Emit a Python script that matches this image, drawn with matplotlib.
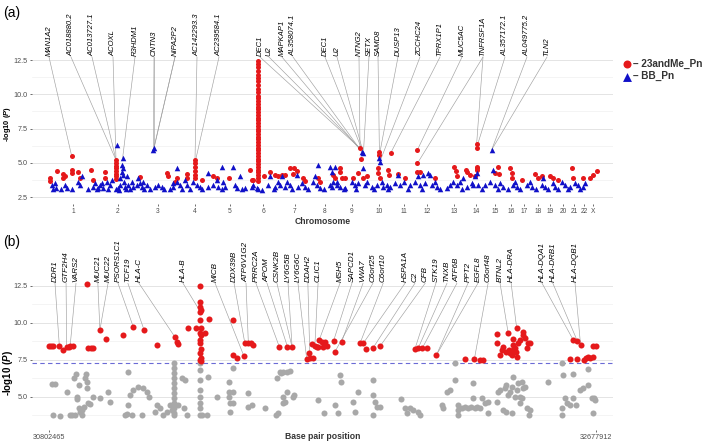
import matplotlib
matplotlib.use("Agg")
import matplotlib.pyplot as plt

plt.rcParams["font.family"] = ["Liberation Sans", "DejaVu Sans"]
plt.rcParams["mathtext.fontset"] = "custom"
plt.rcParams["mathtext.it"] = "Liberation Sans:italic:bold"

# ---------------- panel (a): genome-wide scan ----------------
# x = cumulative genome position (scaled Mb), y = -log10(P)
chrom_names = [str(i) for i in range(1, 23)] + ["X"]
chrom_mid = [115, 340, 540, 725, 900, 1065, 1225, 1375, 1510, 1645, 1770, 1885,
             2020, 2130, 2225, 2305, 2370, 2440, 2500, 2565, 2620, 2670, 2715]

me_pos = [0, 0, 37, 63, 63, 75, 108, 108, 108, 142, 150, 203, 217, 275, 275,
          330, 330, 330, 330, 330, 330, 330, 330, 450,
          583, 592, 625, 633, 683, 683,
          725, 725, 725, 725, 725, 725, 758, 817, 833, 897,
          1000, 1008, 1017,
          1042, 1042, 1042, 1042, 1042, 1042, 1042, 1042, 1042, 1042, 1042, 1042,
          1042, 1042, 1042, 1042, 1042, 1042, 1042, 1042, 1042, 1042, 1042, 1042,
          1042, 1042, 1042, 1042, 1042, 1042, 1042, 1042, 1042, 1042, 1042, 1042,
          1042, 1042, 1042, 1042, 1042, 1042,
          1070, 1100, 1125, 1142, 1158, 1175, 1200, 1220, 1217, 1237, 1267, 1275,
          1342, 1350, 1417, 1425,
          1450, 1450, 1458, 1475, 1517, 1550, 1553, 1542, 1567, 1583,
          1647, 1647, 1642, 1642, 1650, 1692, 1697, 1703, 1742, 1775,
          1837, 1837, 1837, 1850, 1925,
          2020, 2030, 2037, 2080, 2087, 2100,
          2133, 2133, 2133, 2133, 2133, 2125,
          2225, 2242, 2247, 2300, 2308, 2308, 2358, 2425, 2442, 2458, 2500, 2517,
          2542, 2608, 2617, 2667, 2700, 2717, 2733]
me_logp = [3.92, 3.68, 4.41, 4.16, 3.87, 4.07, 5.52, 4.48, 4.24, 4.36, 3.87, 4.48, 3.75, 4.31, 3.87,
           5.2, 5.0, 4.8, 4.6, 4.4, 4.2, 4.0, 3.85, 3.99,
           4.24, 4.0, 3.63, 3.87, 4.16, 3.87,
           5.2, 5.0, 4.7, 4.4, 4.1, 3.9, 3.75, 4.0, 3.87, 3.87,
           4.48, 3.75, 3.75,
           12.4, 12.2, 12.0, 11.7, 11.4, 11.2, 11.0, 10.7, 10.4, 10.2, 9.9, 9.7,
           9.5, 9.3, 9.1, 8.9, 8.7, 8.5, 8.3, 8.1, 7.9, 7.7, 7.5, 7.3,
           7.1, 6.9, 6.7, 6.5, 6.3, 6.1, 5.9, 5.7, 5.5, 5.3, 5.1, 4.9,
           4.7, 4.5, 4.3, 4.1, 3.9, 3.7,
           4.0, 4.36, 4.1, 4.0, 4.1, 4.1, 4.6, 4.6, 4.16, 4.4, 3.87, 3.68,
           3.87, 3.63, 4.1, 3.92,
           4.6, 4.36, 3.87, 3.87, 3.87, 6.06, 5.28, 4.24, 3.87, 4.0,
           5.82, 5.57, 4.6, 4.24, 3.87, 4.48, 4.1, 5.7, 4.16, 3.87,
           5.94, 4.96, 4.36, 4.3, 3.92,
           4.72, 4.4, 4.0, 4.48, 4.3, 4.1,
           6.35, 6.1, 4.72, 4.48, 4.6, 4.0,
           4.24, 4.72, 4.16, 4.6, 4.24, 3.87, 3.75, 4.16, 3.92, 4.07, 4.0, 3.87,
           3.75, 4.65, 3.92, 3.87, 3.92, 4.1, 4.4]

bb_pos = [8, 25, 30, 75, 83, 142, 150, 158, 217, 225, 242, 250, 258, 267, 283, 300, 308,
          337, 342, 350, 350, 358, 358, 363, 367, 367, 370, 375, 387, 392, 408, 417,
          433, 442, 450, 458, 467, 483, 517, 520, 525, 542, 558, 613, 617, 633, 637,
          650, 675, 683,
          717, 733, 750, 792, 792, 817, 833, 842, 858, 867, 875, 917, 925, 933, 950,
          975, 1008, 1017, 1033, 1092, 1100, 1125, 1142, 1150, 1158, 1175, 1183,
          1200, 1233, 1242, 1258, 1275, 1317, 1325, 1333, 1342, 1350, 1400, 1408,
          1425, 1433,
          1400, 1408, 1417, 1433, 1450, 1475, 1508, 1525, 1542, 1558, 1567, 1563,
          1575, 1583, 1608, 1633, 1647, 1650, 1658, 1667, 1683, 1700, 1725, 1742,
          1750, 1770, 1800, 1825, 1842, 1850, 1867, 1875, 1892, 1900, 1908, 1925,
          1933, 1983, 2000, 2017, 2033, 2050, 2067, 2083, 2108, 2125, 2142,
          2208, 2117, 2133, 2175, 2200, 2217, 2225, 2250, 2267, 2317, 2325, 2333,
          2383, 2400, 2408, 2467, 2458, 2475, 2517, 2525, 2558, 2575, 2600, 2625,
          2642, 2667, 2675,
          15, 55, 110, 190, 236, 290, 330, 345, 380, 400, 470, 500, 570, 600, 660,
          700, 760, 860, 960, 1040, 1060, 1120, 1210, 1290, 1370, 1470, 1530, 1620,
          1690, 1790, 1860, 1950, 2060, 2160, 2240, 2290, 2350, 2430, 2490, 2540,
          2590, 2650]
bb_logp = [3.38, 3.5, 3.19, 3.38, 3.19, 3.63, 3.38, 4.0, 3.26, 3.5, 3.19, 3.38, 3.5, 3.19, 3.63, 3.38, 3.75,
           6.3, 3.14, 3.38, 3.87, 4.36, 4.84, 5.33, 4.6, 4.12, 3.63, 3.26, 4.0, 3.38, 3.63, 3.26,
           3.38, 3.87, 3.5, 3.26, 3.63, 3.38, 5.94, 6.06, 3.26, 3.38, 3.26, 3.5, 3.26, 3.63, 4.6,
           3.38, 3.75, 3.38,
           3.63, 3.38, 3.26, 4.24, 3.26, 3.38, 3.75, 3.26, 4.72, 3.63, 3.26, 4.72, 3.38, 3.14, 4.0,
           3.14, 3.26, 3.38, 3.19, 3.38, 4.0, 3.26, 3.63, 3.38, 4.0, 3.26, 3.63,
           3.38, 4.12, 3.26, 3.5, 3.26, 3.63, 4.0, 3.38, 4.84, 3.14, 3.38, 3.26,
           4.72, 3.63,
           4.72, 4.36, 3.63, 3.38, 3.26, 3.19, 3.63, 3.38, 3.5, 5.82, 5.7, 4.6,
           3.38, 3.63, 3.26, 3.38, 5.33, 5.09, 3.63, 3.26, 3.38, 3.26, 3.5, 4.12,
           3.38, 3.63, 3.38, 3.63, 4.0, 3.38, 4.12, 3.5, 4.24, 4.12, 3.38, 3.63,
           3.26, 3.14, 3.38, 3.63, 3.38, 3.63, 3.87, 3.26, 3.5, 4.0, 3.38,
           5.94, 3.38, 4.24, 3.38, 3.63, 4.48, 3.38, 3.5, 3.26, 3.38, 3.63, 3.26,
           3.38, 3.63, 3.26, 3.87, 3.38, 3.26, 3.5, 3.26, 3.63, 3.38, 3.26, 3.5,
           3.38, 3.26, 3.5,
           3.05, 3.1, 3.05, 3.08, 3.05, 3.1, 3.05, 3.02, 3.08, 3.05, 3.1, 3.05, 3.08, 3.05, 3.1,
           3.05, 3.08, 3.05, 3.1, 3.05, 3.02, 3.08, 3.05, 3.1, 3.05, 3.08, 3.05, 3.1,
           3.05, 3.08, 3.05, 3.1, 3.05, 3.08, 3.05, 3.1, 3.05, 3.08, 3.05, 3.1,
           3.05, 3.08]

a_genes = ["MAN1A2", "AC018880.2", "AC013727.1", "ACOXL", "R3HDM1", "CNTN3", "NIPA2P2",
           "AC142293.3", "AC239584.1", "DEC1", "U2", "MAPKAP1", "AL358074.1", "DEC1", "U2",
           "NTNG2", "SETX", "SAMD8", "DUSP13", "ZCCHC24", "TPRX1P1", "MUC5AC", "TNFRSF1A",
           "AL357172.1", "AL049775.2", "TLN2"]
a_hits = [[(108, 5.52)], [(330, 5.2)], [(330, 5.2)], [(330, 5.2)], [(363, 5.33)],
          [(517, 5.94), (520, 6.06)], [(520, 6.06), (517, 5.94)],
          [(725, 5.2)], [(725, 5.0)], [(1550, 6.06)], [(1550, 6.06)], [(1558, 5.82)],
          [(1558, 5.82)], [(1567, 5.7)], [(1567, 5.7)], [(1550, 6.06)], [(1567, 5.7)],
          [(1647, 5.82)], [(1647, 5.57)], [(1650, 5.09)], [(1703, 5.7)], [(1837, 5.94)],
          [(1837, 4.96), (2133, 6.35)], [(2133, 6.1)], [(2208, 5.94)], [(2208, 5.94)]]
# repelled label positions (layout)
a_label_x = [-5, 105, 210, 315, 425, 520, 625, 735, 845, 1050, 1095, 1160, 1215,
             1375, 1435, 1545, 1595, 1640, 1740, 1850, 1950, 2060, 2165, 2275, 2385, 2485]

# ---------------- panel (b): MHC region ----------------
b_ends = [30802465, 32677912]
b_sig = 7.3

b_red_pos = [30.803, 30.808, 30.815, 30.838, 30.850, 30.863, 30.870, 30.875, 30.884,
             30.934, 30.937, 30.945, 30.955, 30.977, 30.998, 31.057, 31.092, 31.128,
             31.172, 31.235, 31.240, 31.244, 31.280, 31.307,
             31.319, 31.321, 31.320, 31.322, 31.319, 31.321, 31.323, 31.320, 31.322,
             31.319, 31.321, 31.323, 31.320, 31.322, 31.321, 31.323,
             31.338, 31.352, 31.432, 31.432, 31.448, 31.471, 31.474, 31.486, 31.494,
             31.503, 31.592, 31.620, 31.636,
             31.686, 31.695, 31.697, 31.703, 31.709, 31.714, 31.720, 31.726, 31.729,
             31.737, 31.743, 31.749, 31.754, 31.778, 31.783, 31.806,
             31.869, 31.880, 31.891, 31.914, 31.939, 32.057, 32.069, 32.083, 32.097,
             32.131, 32.229, 32.261, 32.280, 32.289,
             32.339, 32.339, 32.349, 32.354, 32.360, 32.371, 32.377, 32.381, 32.383,
             32.389, 32.392, 32.394, 32.394, 32.400, 32.403, 32.406, 32.406, 32.411,
             32.417, 32.426, 32.429, 32.434, 32.440, 32.446, 32.451,
             32.589, 32.600, 32.614, 32.614, 32.625, 32.637, 32.643, 32.651, 32.659,
             32.666, 32.669, 32.677]
b_red_logp = [8.45, 8.45, 8.45, 8.45, 8.15, 8.4, 8.4, 8.45, 8.45,
              12.6, 8.29, 8.29, 8.33, 9.53, 8.92, 9.19, 9.7, 9.55,
              8.51, 9.03, 8.74, 8.56, 9.66, 9.64,
              12.5, 11.4, 11.1, 10.88, 10.77, 10.2, 9.64, 9.3, 9.19,
              8.85, 8.63, 8.22, 7.95, 7.66, 7.5, 7.43,
              9.3, 10.3, 10.2, 7.84, 7.66, 7.75, 8.63, 8.63, 8.63,
              8.51, 8.4, 8.4, 8.36,
              7.57, 7.95, 7.61, 8.56, 7.61, 8.47, 8.4, 8.4, 8.85,
              8.74, 8.4, 8.74, 8.47, 8.78, 8.06, 8.74,
              8.63, 8.63, 8.22, 8.33, 8.47, 8.24, 8.33, 8.33, 8.33,
              7.84, 7.57, 7.57, 7.5, 7.5,
              9.26, 8.63, 7.84, 8.17, 8.4, 8.06, 9.3, 8.17, 7.95,
              7.84, 8.17, 8.92, 8.51, 8.29, 8.06, 9.64, 7.73, 8.63,
              8.85, 9.41, 9.19, 9.0, 8.29, 8.63, 8.63,
              7.57, 8.85, 8.78, 7.57, 8.51, 7.5, 7.61, 7.73, 7.66,
              8.47, 7.73, 8.47]

b_grey_pos = [30.812, 30.824, 30.816, 30.841, 30.864, 30.889, 30.896, 30.904, 30.898,
              30.900, 30.909, 30.892, 30.875, 30.881, 30.915, 30.921, 30.926, 30.932,
              30.934, 30.930, 30.936, 30.944, 30.955, 30.978, 31.006, 31.012, 30.904,
              30.915, 31.075, 31.081, 31.075, 31.086, 31.069, 31.064, 31.092, 31.109,
              31.121, 31.126, 31.138, 31.144, 31.166, 31.172, 31.184, 31.195, 31.206,
              31.218, 31.224,
              31.232, 31.232, 31.232, 31.232, 31.232, 31.232, 31.232, 31.232, 31.232,
              31.232, 31.232, 31.232,
              31.246, 31.258, 31.269, 31.275, 31.264,
              31.321, 31.321, 31.321, 31.321, 31.321, 31.321, 31.321, 31.321,
              31.326, 31.344, 31.349, 31.378, 31.418, 31.418, 31.418, 31.424, 31.424,
              31.433, 31.435, 31.435, 31.486, 31.486, 31.498, 31.543, 31.581, 31.586,
              31.584, 31.593, 31.597, 31.606, 31.618, 31.629, 31.606, 31.612, 31.604,
              31.618, 31.638, 31.641, 31.726, 31.744, 31.784, 31.795, 31.801, 31.803,
              31.846, 31.851, 31.863, 31.914, 31.914, 31.920, 31.926, 31.937, 31.914,
              32.011, 32.023, 32.029, 32.040, 32.051, 32.069, 32.074, 32.149, 32.154,
              32.166, 32.177, 32.194, 32.194, 32.206, 32.206, 32.206, 32.217, 32.229,
              32.240, 32.251, 32.257, 32.263, 32.269, 32.280, 32.286, 32.297, 32.309,
              32.257, 32.309, 32.337, 32.343, 32.349, 32.366, 32.371, 32.377, 32.383,
              32.389, 32.394, 32.400, 32.406, 32.411, 32.417, 32.423, 32.429, 32.434,
              32.440, 32.449, 32.451, 32.360, 32.371, 32.389, 32.417, 32.423, 32.514,
              32.560, 32.566, 32.600, 32.571, 32.577, 32.589, 32.560, 32.563, 32.600,
              32.611, 32.623, 32.634, 32.651, 32.651, 32.663, 32.671, 32.666, 32.674]
b_grey_logp = [5.88, 5.88, 3.78, 3.74, 5.36, 6.26, 6.53, 5.81, 5.02,
               4.86, 4.01, 3.78, 3.78, 3.78, 3.78, 4.35, 6.26, 6.04,
               5.59, 6.53, 4.57, 4.5, 5.02, 4.91, 5.36, 4.68, 4.23,
               4.12, 6.71, 5.14, 4.46, 3.78, 3.85, 3.78, 5.47, 5.7,
               3.78, 5.59, 5.36, 5.02, 4.01, 4.46, 4.23, 3.78, 4.01,
               4.46, 4.12,
               7.27, 6.94, 6.6, 6.26, 5.92, 5.59, 5.25, 4.91, 4.57,
               4.23, 3.9, 3.78,
               4.46, 6.26, 6.15, 3.78, 4.23,
               7.27, 6.82, 6.15, 5.47, 5.02, 4.57, 4.23, 3.78,
               3.78, 3.78, 6.37, 5.02, 6.04, 5.36, 5.02, 4.57, 4.01,
               6.94, 5.36, 4.57, 5.25, 4.35, 4.46, 4.23, 3.78, 3.9,
               6.31, 6.71, 6.6, 6.71, 6.71, 6.76, 5.02, 4.68, 4.57,
               5.36, 5.02, 5.14, 4.8, 3.9, 4.46, 3.9, 6.49, 6.04,
               4.68, 4.01, 5.36, 6.15, 5.14, 4.68, 4.35, 4.35, 3.78,
               4.86, 4.23, 3.9, 4.28, 4.12, 4.01, 3.78, 4.46, 4.28,
               5.36, 5.47, 7.27, 6.15, 4.46, 4.12, 3.78, 4.23, 4.35,
               4.28, 4.35, 4.91, 4.28, 4.35, 4.23, 4.91, 4.57, 4.68,
               5.92, 3.9, 4.68, 5.36, 5.47, 5.59, 5.81, 5.14, 5.36,
               5.7, 6.37, 5.02, 5.47, 5.92, 4.57, 6.04, 5.59, 5.7,
               4.23, 3.78, 4.12, 4.12, 4.01, 3.9, 5.02, 4.91, 5.99,
               7.27, 6.49, 6.53, 4.91, 4.57, 4.46, 4.23, 3.78, 4.91,
               4.46, 5.47, 5.59, 6.87, 5.81, 4.91, 4.96, 3.9, 4.8]

b_genes = ["DDR1", "GTF2H4", "VARS2", "MUC21", "MUC22", "PSORS1C1", "TCF19", "HLA-C",
           "HLA-B", "MICB", "DDX39B", "ATP6V1G2", "PRRC2A", "APOM", "CSNK2B", "LY6G5B",
           "LY6G6C", "DDAH2", "CLIC1", "MSH5", "SAPCD1", "VWA7", "C6orf25", "C6orf10",
           "HSPA1A", "C2", "CFB", "STK19", "TNXB", "ATF6B", "PPT2", "EGFL8", "C6orf48",
           "BTNL2", "HLA-DRA", "HLA-DQA1", "HLA-DRB1", "HLA-DQB1"]
b_hits = [(30.838, 8.45), (30.863, 8.4), (30.875, 8.45), (30.977, 9.53), (30.977, 9.53),
          (31.092, 9.7), (31.128, 9.55), (31.235, 9.03), (31.321, 10.77), (31.471, 7.75),
          (31.474, 8.63), (31.486, 8.63), (31.592, 8.4), (31.620, 8.4), (31.636, 8.36),
          (31.636, 8.36), (31.686, 7.57), (31.697, 7.61), (31.714, 8.47), (31.729, 8.85),
          (31.778, 8.78), (31.806, 8.74), (31.783, 8.06), (31.869, 8.63), (31.880, 8.63),
          (31.914, 8.33), (31.939, 8.47), (32.057, 8.24), (32.069, 8.33), (32.083, 8.33),
          (32.131, 7.84), (32.131, 7.84), (32.261, 7.57), (32.377, 9.3), (32.406, 9.64),
          (32.600, 8.85), (32.614, 8.78), (32.625, 8.51)]
# repelled label positions (layout)
b_label_x = [30.823, 30.861, 30.895, 30.970, 31.005, 31.039, 31.073, 31.111, 31.262,
             31.372, 31.437, 31.478, 31.512, 31.550, 31.584, 31.622, 31.656, 31.690,
             31.725, 31.800, 31.841, 31.879, 31.913, 31.948, 32.023, 32.057, 32.092,
             32.129, 32.167, 32.201, 32.239, 32.273, 32.308, 32.349, 32.387, 32.493,
             32.530, 32.606]

RED = "#E5191B"
BLUE = "#1010C8"
GREY_PT = "#A8A8A8"
TXT = "#4D4D4D"
LINE = "#A0A0A0"


def style_axes(ax, major, minor, ylab_size, ylab_x, ylab_y):
    for v in minor:
        ax.axhline(v, color="#F0F0F0", lw=0.5, zorder=0)
    for v in major:
        ax.axhline(v, color="#E4E4E4", lw=0.7, zorder=0)
    for s in ax.spines.values():
        s.set_visible(False)
    ax.tick_params(axis="both", length=1.5, width=0.5, color="#333333",
                   labelsize=5.2, labelcolor=TXT, pad=1.5)
    ax.set_yticks(major)
    ax.set_yticklabels([f"{v:.1f}" for v in major])
    ax.set_ylabel(r"-log10 ($\it{P}$)", fontsize=ylab_size, fontweight="bold")
    ax.yaxis.set_label_coords(ylab_x, ylab_y)


def draw_labels(ax, names, label_x, hits, y_text, y_line, size):
    for name, lx, h in zip(names, label_x, hits):
        ax.text(lx, y_text, name, rotation=90, ha="center", va="bottom",
                fontsize=size, style="italic", clip_on=False)
        for hx, hy in h:
            ax.plot([lx, hx], [y_line, hy], color=LINE, lw=0.45, zorder=1,
                    clip_on=False)


fig = plt.figure(figsize=(7.09, 4.45), dpi=100)

# panel (a)
ax1 = fig.add_axes([32 / 709, 241 / 445, 581 / 709, 146 / 445])
style_axes(ax1, [2.5, 5.0, 7.5, 10.0, 12.5], [3.75, 6.25, 8.75, 11.25],
           5.4, -0.033, 0.55)
ax1.scatter(me_pos, me_logp, s=13, color=RED, marker="o", lw=0, zorder=3,
            label="\u2013 23andMe_Pn")
ax1.scatter(bb_pos, bb_logp, s=16, color=BLUE, marker="^", lw=0, zorder=4,
            label="\u2013 BB_Pn")
ax1.set_xlim(-90, 2815)
ax1.set_ylim(1.99, 12.65)
ax1.set_xticks(chrom_mid)
ax1.set_xticklabels(chrom_names, fontsize=4.8)
ax1.text(0.5, -0.123, "Chromosome", transform=ax1.transAxes, ha="center",
         va="center", fontsize=6.2, fontweight="bold", color="#333333")
draw_labels(ax1, a_genes, a_label_x, a_hits, 12.82, 12.72, 5.5)
leg = ax1.legend(loc="upper left", bbox_to_anchor=(1.005, 1.03), frameon=False,
                 handletextpad=0.0, handlelength=1.2, borderpad=0.0,
                 labelspacing=0.25, prop={"size": 7.2, "weight": "bold"},
                 markerscale=1.6)
for t in leg.get_texts():
    t.set_color("#333333")

# panel (b)
ax2 = fig.add_axes([32 / 709, 15 / 445, 581 / 709, 147 / 445])
style_axes(ax2, [5.0, 7.5, 10.0, 12.5], [3.75, 6.25, 8.75, 11.25],
           7.0, -0.029, 0.39)
ax2.axhline(b_sig, color="#6B6BD6", lw=0.8, ls=(0, (4, 3)), zorder=2)
ax2.scatter(b_grey_pos, b_grey_logp, s=19, color=GREY_PT, lw=0, zorder=3)
ax2.scatter(b_red_pos, b_red_logp, s=19, color=RED, lw=0, zorder=3, clip_on=False)
ax2.set_xlim(30.7442, 32.7362)
ax2.set_ylim(2.77, 12.7)
ax2.set_xticks([v / 1e6 for v in b_ends])
ax2.set_xticklabels([str(v) for v in b_ends], fontsize=5.2)
ax2.text(0.5, -0.041, "Base pair position", transform=ax2.transAxes, ha="center",
         va="center", fontsize=6.2, fontweight="bold", color="#333333")
draw_labels(ax2, b_genes, b_label_x, [[h] for h in b_hits], 12.78, 12.68, 5.8)

fig.text(3 / 709, 1 - 13 / 445, "(a)", fontsize=10, va="center", ha="left")
fig.text(3 / 709, 1 - 242 / 445, "(b)", fontsize=10, va="center", ha="left")

fig.savefig("out.png", dpi=100)
